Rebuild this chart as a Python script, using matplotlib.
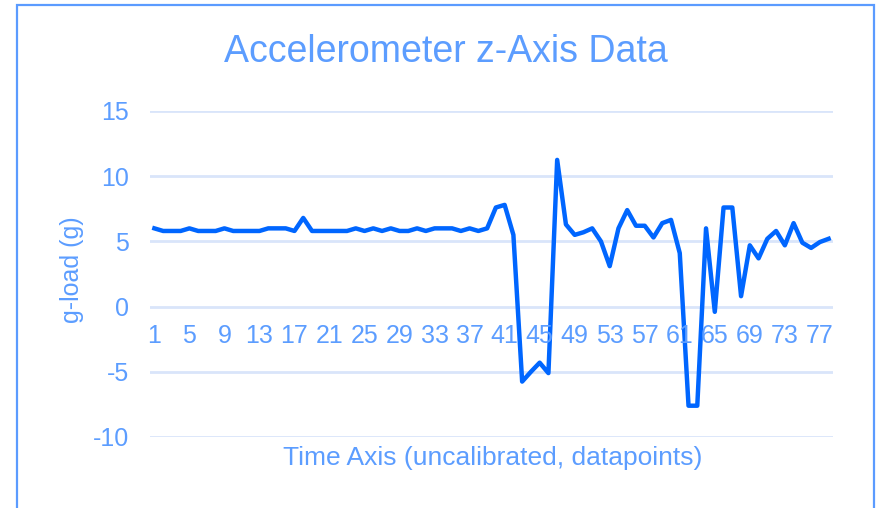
import matplotlib
matplotlib.use("Agg")
import matplotlib.pyplot as plt
from matplotlib.patches import Rectangle

plt.rcParams['font.family'] = ['Liberation Sans', 'DejaVu Sans']

title = "Accelerometer z-Axis Data"
x_title = "Time Axis (uncalibrated, datapoints)"
y_title = "g-load (g)"

g_load = [6.0, 5.8, 5.8, 5.8, 6.0, 5.8, 5.8, 5.8, 6.0, 5.8,
          5.8, 5.8, 5.8, 6.0, 6.0, 6.0, 5.8, 6.8, 5.8, 5.8,
          5.8, 5.8, 5.8, 6.0, 5.8, 6.0, 5.8, 6.0, 5.8, 5.8,
          6.0, 5.8, 6.0, 6.0, 6.0, 5.8, 6.0, 5.8, 6.0, 7.6,
          7.8, 5.5, -5.75, -5.0, -4.3, -5.1, 11.25, 6.3, 5.5, 5.7,
          6.0, 5.0, 3.1, 6.0, 7.4, 6.2, 6.2, 5.3, 6.4, 6.65,
          4.1, -7.6, -7.6, 6.0, -0.4, 7.6, 7.6, 0.8, 4.7, 3.7,
          5.2, 5.8, 4.7, 6.4, 4.9, 4.5, 4.95, 5.2]
categories = list(range(1, len(g_load) + 1))
y_ticks = [-10, -5, 0, 5, 10, 15]

text_color = '#5C9DFF'
line_color = '#0066FF'
grid_color = '#D9E5FA'

fig = plt.figure(figsize=(8.81, 5.08), dpi=100)
ax = fig.add_axes([150/881, 1-437/508, (833-150)/881, (437-111)/508])

ax.plot(categories, g_load, color=line_color, lw=3.2, solid_joinstyle='round', zorder=3)

ax.set_xlim(0.5, len(categories) + 0.5)
ax.set_ylim(-10, 15)
ax.set_yticks(y_ticks)
ax.set_yticklabels([str(t) for t in y_ticks])
ax.set_xticks([])
for spine in ax.spines.values():
    spine.set_visible(False)
for t in y_ticks:
    ax.axhline(t, color=grid_color, lw=2.0, zorder=1)
ax.tick_params(axis='y', length=0, pad=15, labelsize=18, labelcolor=text_color)

# category labels placed next to the horizontal axis at zero
for c in categories[::4]:
    ax.annotate(str(c), xy=(c, 0), xytext=(0, -30), textcoords='offset points',
                ha='center', va='bottom', fontsize=18, color=text_color)

fig.text(445.5/881, 1-52/508, title, ha='center', va='center', fontsize=27, color=text_color)
fig.text(493/881, 1-458/508, x_title, ha='center', va='center', fontsize=19, color=text_color)
fig.text(72/881, 1-270/508, y_title, ha='center', va='center', fontsize=18,
         color=text_color, rotation=90)

fig.patches.append(Rectangle((17/881, -0.05), (874-17)/881, 1.05 - 5/508,
                             transform=fig.transFigure, fill=False,
                             edgecolor='#5B9BFF', lw=1.6, zorder=0))

fig.savefig('out.png', dpi=100)
